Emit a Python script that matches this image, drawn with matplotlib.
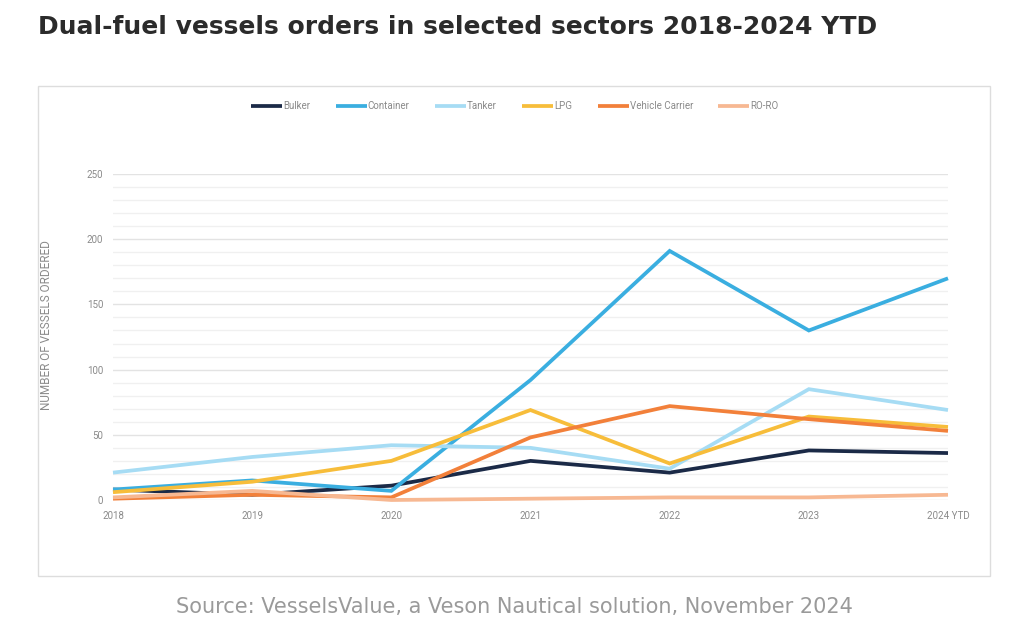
import matplotlib
matplotlib.use("Agg")
import matplotlib.pyplot as plt
from matplotlib.patches import Rectangle
import numpy as np

years = ["2018", "2019", "2020", "2021", "2022", "2023", "2024 YTD"]

bulker = [8, 4, 11, 30, 21, 38, 36]
container = [8, 15, 7, 92, 191, 130, 170]
tanker = [21, 33, 42, 40, 24, 85, 69]
lpg = [6, 14, 30, 69, 28, 64, 56]
vehicle_carrier = [1, 4, 2, 48, 72, 62, 53]
ro_ro = [2, 7, 0, 1, 2, 2, 4]

series = [
    ("Bulker", bulker, "#1b2a47"),
    ("Container", container, "#3aaee0"),
    ("Tanker", tanker, "#a6dcf4"),
    ("LPG", lpg, "#f7bd3a"),
    ("Vehicle Carrier", vehicle_carrier, "#f2803a"),
    ("RO-RO", ro_ro, "#f7b892"),
]

plt.rcParams["font.family"] = ["Roboto", "DejaVu Sans"]

fig = plt.figure(figsize=(10.24, 6.39), dpi=100)
fig.patch.set_facecolor("white")

# panel border
fig.patches.append(Rectangle((38 / 1024, 1 - 576 / 639), 952 / 1024, 490 / 639,
                             transform=fig.transFigure, fill=False,
                             edgecolor="#dddddd", linewidth=1))

ax = fig.add_axes([113 / 1024, 1 - 500 / 639, 835 / 1024, 326 / 639])
x = np.arange(len(years))
for name, vals, color in series:
    ax.plot(x, vals, color=color, linewidth=2.7, label=name,
            solid_capstyle="butt", solid_joinstyle="miter", clip_on=False)

ax.set_xlim(0, len(years) - 1)
ax.set_ylim(0, 250)
for v in range(0, 251, 10):
    ax.axhline(v, color="#e3e3e3" if v % 50 == 0 else "#f0f0f0",
               linewidth=1, zorder=0)
ax.set_yticks(range(0, 251, 50))
ax.set_xticks(x)
ax.set_xticklabels(years)
ax.tick_params(length=0, labelsize=7, labelcolor="#8a8a8a")
ax.tick_params(axis="y", pad=7)
ax.tick_params(axis="x", pad=8)
for s in ax.spines.values():
    s.set_visible(False)
ax.set_ylabel("NUMBER OF VESSELS ORDERED", fontsize=8.5, color="#8a8a8a")
ax.yaxis.set_label_coords(-0.072, 0.537)

fig.legend(loc="center", bbox_to_anchor=(515 / 1024, 1 - 106 / 639), ncol=6,
           frameon=False, fontsize=7, labelcolor="#8a8a8a", handlelength=3.2,
           handletextpad=0.1, columnspacing=2.6)

fig.text(38 / 1024, 1 - 27 / 639,
         "Dual-fuel vessels orders in selected sectors 2018-2024 YTD",
         fontsize=18, fontweight="bold", color="#2b2b2b",
         ha="left", va="center", family=["DejaVu Sans"])
fig.text(514 / 1024, 1 - 607 / 639,
         "Source: VesselsValue, a Veson Nautical solution, November 2024",
         fontsize=15, color="#9a9a9a", ha="center", va="center",
         family=["DejaVu Sans"])

fig.savefig("out.png", dpi=100, facecolor="white")
